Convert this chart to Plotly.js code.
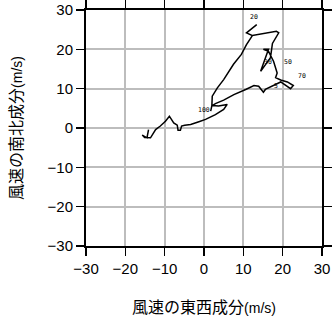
<!DOCTYPE html>
<html>
<head>
<meta charset="utf-8">
<script src="https://cdn.plot.ly/plotly-3.0.1.min.js"></script>
<style>html,body{margin:0;padding:0;background:#fff;}</style>
</head>
<body>
<div id="chart" style="width:332px;height:319px;"></div>
<script>
// Hodograph: east-west (u) and north-south (v) wind components, m/s
const uWind = [-14.1,-14.5,-15.7,-15.1,-13.6,-12.3,-11.1,-9.8,-8.8,-7.7,-6.8,-6.6,-6.0,-5.7,-4.9,-3.4,-1.3,0.4,2.9,5.0,5.9,3.7,2.1,
  2.9,5.0,7.6,10.6,12.7,13.9,15.1,15.6,17.8,19.5,22.0,22.7,21.2,19.5,18.2,18.6,
  17.7,16.4,15.1,16.4,14.4,16.9,17.4,19.0,18.4,12.3,10.8,13.4,10.8,12.3,
  10.8,9.5,7.5,5.0,3.4,2.1,2.0,1.7];
const vWind = [-0.4,-2.5,-1.8,-2.4,-2.5,-0.4,0.5,1.7,3.0,1.3,0.7,-0.6,-0.6,0.5,0.7,0.9,1.6,2.2,3.4,4.7,6.0,5.6,5.7,
  6.2,7.1,8.5,9.8,10.8,10.6,9.1,9.8,10.8,11.7,10.0,10.8,11.7,12.2,12.8,14.0,
  16.9,19.5,20.0,20.0,14.4,17.9,21.5,24.2,24.6,23.5,24.2,26.3,24.2,23.5,
  21.2,18.7,16.2,12.3,10.2,8.1,5.7,4.3];
// level labels and their positions
const levelLabels = ["20","30","50","70","5","100"];
const labelU = [12.6,16.2,21.4,24.8,18.2,-0.1];
const labelV = [28.1,16.7,16.7,13.1,10.8,4.5];
// axis ticks
const tickVals = [-30,-20,-10,0,10,20,30];
const tickText = ["\u221230","\u221220","\u221210","0","10","20","30"];

const trace = {
  x: uWind, y: vWind, mode: 'lines', type: 'scatter',
  line: {color: '#000', width: 1.5}, hoverinfo: 'skip', showlegend: false
};
const annotations = levelLabels.map((t, i) => ({
  x: labelU[i], y: labelV[i], xref: 'x', yref: 'y', text: t, showarrow: false,
  font: {family: 'DejaVu Sans Mono', size: 6.5, color: '#000'}
}));
const axisCommon = {
  range: [-30, 30], tickvals: tickVals, ticktext: tickText,
  showgrid: true, gridcolor: '#bdbdbd', gridwidth: 2,
  zeroline: false, showline: true, linecolor: '#000', linewidth: 2,
  mirror: 'allticks', ticks: 'outside', ticklen: 8, tickwidth: 1.2, tickcolor: '#000',
  tickfont: {family: 'Liberation Sans, Arial, sans-serif', size: 15, color: '#000'},
  automargin: false, fixedrange: true
};
const layout = {
  width: 332, height: 319,
  margin: {l: 86, r: 10, t: 10, b: 73},
  paper_bgcolor: '#fff', plot_bgcolor: '#fff',
  annotations: annotations,
  xaxis: Object.assign({}, axisCommon, {
    title: {text: '風速の東西成分<span style="font-family:Liberation Sans;font-size:14px">(m/s)</span>',
      font: {family: 'Noto Sans CJK JP', size: 16, color: '#000'}, standoff: 26}
  }),
  yaxis: Object.assign({}, axisCommon, {
    title: {text: '風速の南北成分<span style="font-family:Liberation Sans;font-size:14px">(m/s)</span>',
      font: {family: 'Noto Sans CJK JP', size: 16, color: '#000'}, standoff: 21}
  })
};
Plotly.newPlot('chart', [trace], layout, {displayModeBar: false, staticPlot: true});
</script>
</body>
</html>
